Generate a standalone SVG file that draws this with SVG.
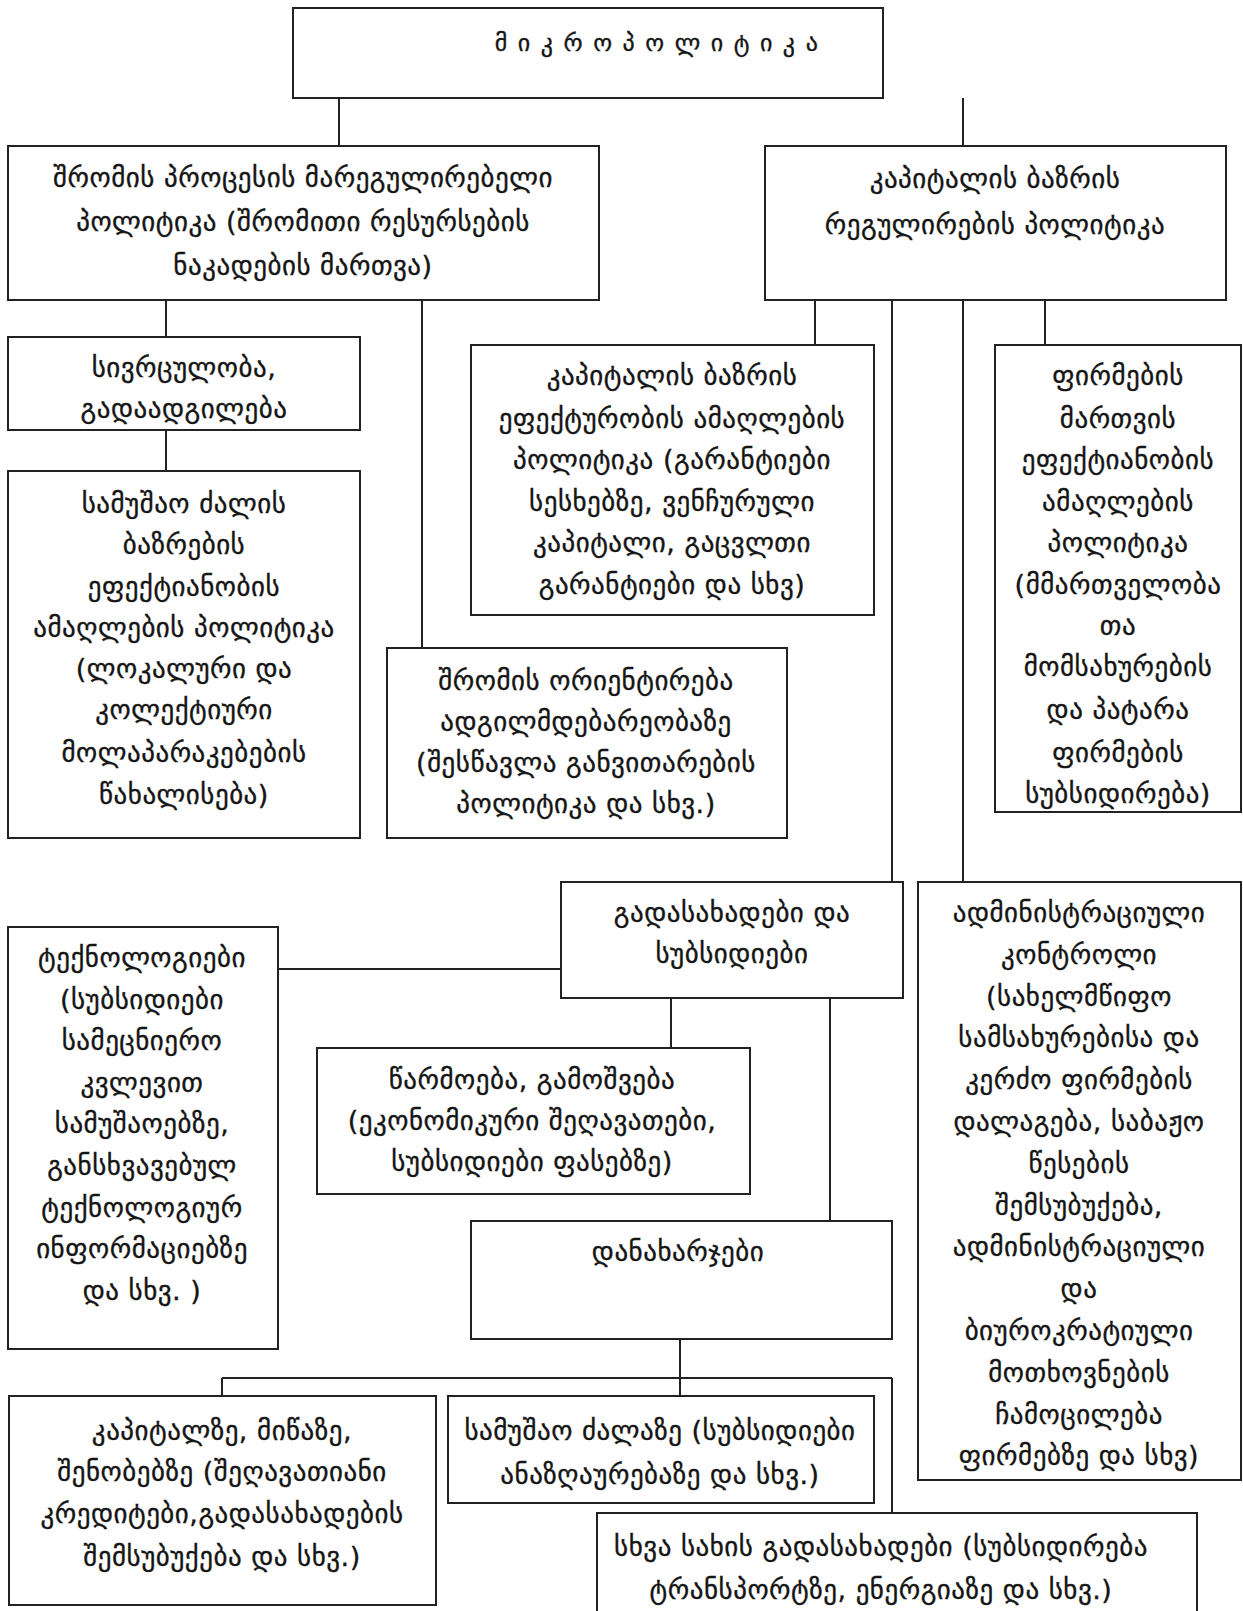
<svg xmlns="http://www.w3.org/2000/svg" width="1243" height="1611" viewBox="0 0 1243 1611">
  <style>
    .box { fill: #ffffff; stroke: #222222; stroke-width: 2; }
    .link { fill: none; stroke: #222222; stroke-width: 2; }
    text { font-family: "DejaVu Sans", "Noto Sans", sans-serif; font-size: 27px; letter-spacing: 0.5px; fill: #151515; stroke: #151515; stroke-width: 0.35px; text-anchor: middle; dominant-baseline: central; }
    .title { font-size: 24px; letter-spacing: 1.45px; }
  </style>
  <rect width="1243" height="1611" fill="#ffffff"/>

  <!-- connectors -->
  <g id="connectors" class="link">
    <path d="M339 98V146 M963 98V146"/>
    <path d="M166 300V337 M166 430V471 M422 300V648"/>
    <path d="M815 300V345 M892 300V882 M963 300V882 M1045 300V345"/>
    <path d="M278 969H561 M671 998V1048 M830 998V1221"/>
    <path d="M680 1339V1396 M222 1378H892 M222 1378V1396 M892 1378V1513"/>
  </g>

  <g id="n-micro">
    <rect class="box" x="293" y="8" width="590" height="90"/>
    <text class="title" x="657" y="43">მ ი კ რ ო პ ო ლ ი ტ ი კ ა</text>
  </g>

  <g id="n-labour-policy">
    <rect class="box" x="8" y="146" width="591" height="154"/>
    <text x="303" y="177">შრომის პროცესის მარეგულირებელი</text>
    <text x="303" y="221">პოლიტიკა (შრომითი რესურსების</text>
    <text x="303" y="265">ნაკადების მართვა)</text>
  </g>

  <g id="n-capital-policy">
    <rect class="box" x="765" y="146" width="461" height="154"/>
    <text x="995" y="178">კაპიტალის ბაზრის</text>
    <text x="995" y="224">რეგულირების პოლიტიკა</text>
  </g>

  <g id="n-mobility">
    <rect class="box" x="8" y="337" width="352" height="93"/>
    <text x="184" y="367">სივრცულობა,</text>
    <text x="184" y="408">გადაადგილება</text>
  </g>

  <g id="n-labour-market">
    <rect class="box" x="8" y="471" width="352" height="367"/>
    <text x="184" y="503">სამუშაო ძალის</text>
    <text x="184" y="544">ბაზრების</text>
    <text x="184" y="586">ეფექტიანობის</text>
    <text x="184" y="627">ამაღლების პოლიტიკა</text>
    <text x="184" y="668">(ლოკალური და</text>
    <text x="184" y="709">კოლექტიური</text>
    <text x="184" y="752">მოლაპარაკებების</text>
    <text x="184" y="794">წახალისება)</text>
  </g>

  <g id="n-capital-market">
    <rect class="box" x="471" y="345" width="403" height="270"/>
    <text x="672" y="375">კაპიტალის ბაზრის</text>
    <text x="672" y="418">ეფექტურობის ამაღლების</text>
    <text x="672" y="459">პოლიტიკა (გარანტიები</text>
    <text x="672" y="501">სესხებზე, ვენჩურული</text>
    <text x="672" y="542">კაპიტალი, გაცვლთი</text>
    <text x="672" y="584">გარანტიები და სხვ)</text>
  </g>

  <g id="n-firm-management">
    <rect class="box" x="995" y="345" width="246" height="467"/>
    <text x="1118" y="375">ფირმების</text>
    <text x="1118" y="418">მართვის</text>
    <text x="1118" y="459">ეფექტიანობის</text>
    <text x="1118" y="501">ამაღლების</text>
    <text x="1118" y="542">პოლიტიკა</text>
    <text x="1118" y="584">(მმართველობა</text>
    <text x="1118" y="625">თა</text>
    <text x="1118" y="666">მომსახურების</text>
    <text x="1118" y="709">და პატარა</text>
    <text x="1118" y="752">ფირმების</text>
    <text x="1118" y="793">სუბსიდირება)</text>
  </g>

  <g id="n-labour-orientation">
    <rect class="box" x="387" y="648" width="400" height="190"/>
    <text x="586" y="680">შრომის ორიენტირება</text>
    <text x="586" y="721">ადგილმდებარეობაზე</text>
    <text x="586" y="762">(შესწავლა განვითარების</text>
    <text x="586" y="803">პოლიტიკა და სხვ.)</text>
  </g>

  <g id="n-taxes">
    <rect class="box" x="561" y="882" width="342" height="116"/>
    <text x="732" y="912">გადასახადები და</text>
    <text x="732" y="953">სუბსიდიები</text>
  </g>

  <g id="n-admin-control">
    <rect class="box" x="918" y="882" width="323" height="598"/>
    <text x="1079" y="912">ადმინისტრაციული</text>
    <text x="1079" y="954">კონტროლი</text>
    <text x="1079" y="996">(სახელმწიფო</text>
    <text x="1079" y="1037">სამსახურებისა და</text>
    <text x="1079" y="1079">კერძო ფირმების</text>
    <text x="1079" y="1121">დალაგება, საბაჟო</text>
    <text x="1079" y="1163">წესების</text>
    <text x="1079" y="1205">შემსუბუქება,</text>
    <text x="1079" y="1246">ადმინისტრაციული</text>
    <text x="1079" y="1288">და</text>
    <text x="1079" y="1330">ბიუროკრატიული</text>
    <text x="1079" y="1372">მოთხოვნების</text>
    <text x="1079" y="1414">ჩამოცილება</text>
    <text x="1079" y="1455">ფირმებზე და სხვ)</text>
  </g>

  <g id="n-technology">
    <rect class="box" x="8" y="927" width="270" height="422"/>
    <text x="142" y="957">ტექნოლოგიები</text>
    <text x="142" y="999">(სუბსიდიები</text>
    <text x="142" y="1040">სამეცნიერო</text>
    <text x="142" y="1082">კვლევით</text>
    <text x="142" y="1123">სამუშაოებზე,</text>
    <text x="142" y="1165">განსხვავებულ</text>
    <text x="142" y="1207">ტექნოლოგიურ</text>
    <text x="142" y="1248">ინფორმაციებზე</text>
    <text x="142" y="1290">და სხვ. )</text>
  </g>

  <g id="n-production">
    <rect class="box" x="317" y="1048" width="433" height="146"/>
    <text x="532" y="1079">წარმოება, გამოშვება</text>
    <text x="532" y="1120">(ეკონომიკური შეღავათები,</text>
    <text x="532" y="1161">სუბსიდიები ფასებზე)</text>
  </g>

  <g id="n-costs">
    <rect class="box" x="471" y="1221" width="421" height="118"/>
    <text x="678" y="1251">დანახარჯები</text>
  </g>

  <g id="n-capital-land">
    <rect class="box" x="9" y="1396" width="427" height="209"/>
    <text x="222" y="1430">კაპიტალზე, მიწაზე,</text>
    <text x="222" y="1471">შენობებზე (შეღავათიანი</text>
    <text x="222" y="1513">კრედიტები,გადასახადების</text>
    <text x="222" y="1556">შემსუბუქება და სხვ.)</text>
  </g>

  <g id="n-labour-force">
    <rect class="box" x="448" y="1396" width="426" height="107"/>
    <text x="660" y="1430">სამუშაო ძალაზე (სუბსიდიები</text>
    <text x="660" y="1474">ანაზღაურებაზე და სხვ.)</text>
  </g>

  <g id="n-other-taxes">
    <rect class="box" x="597" y="1513" width="600" height="110"/>
    <text x="881" y="1546">სხვა სახის გადასახადები (სუბსიდირება</text>
    <text x="881" y="1589">ტრანსპორტზე, ენერგიაზე და სხვ.)</text>
  </g>
</svg>
